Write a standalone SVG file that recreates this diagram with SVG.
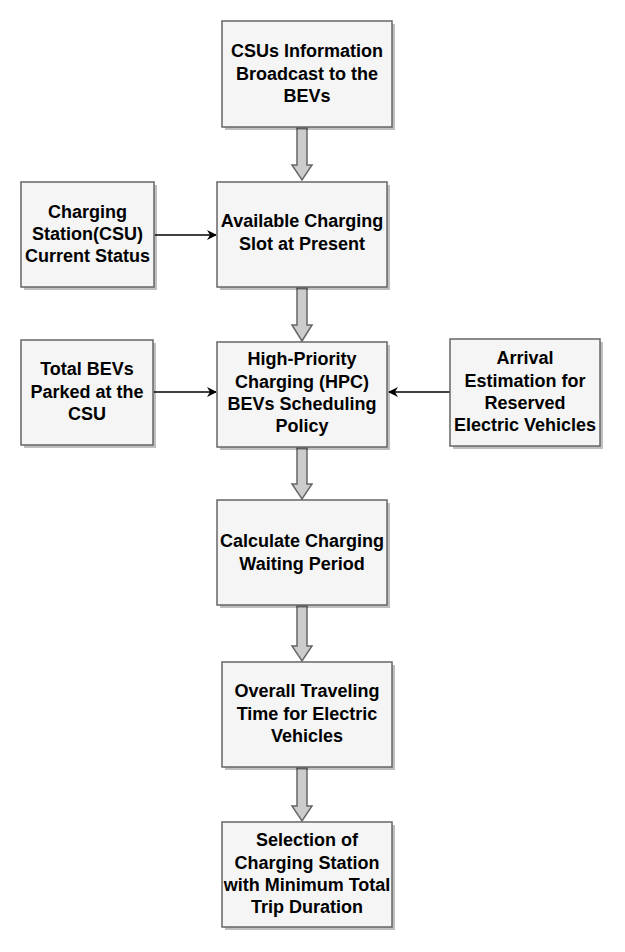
<svg xmlns="http://www.w3.org/2000/svg" width="625" height="952" viewBox="0 0 625 952">
<style>
.box{fill:#f5f5f5;stroke:#666;stroke-width:1.5}
.sh{fill:#000;opacity:0.25}
text{font-family:"Liberation Sans",Arial,sans-serif;font-weight:bold;font-size:18px;fill:#000;text-anchor:middle}
.ln{stroke:#000;stroke-width:1.5;fill:none}
.blk{fill:#ccc;stroke:#666;stroke-width:1.5}
</style>
<defs>
<marker id="ah" markerWidth="10" markerHeight="10" refX="9" refY="5" orient="auto" markerUnits="userSpaceOnUse">
<path d="M0,0 L10,5 L0,10 L3,5 Z" fill="#000"/>
</marker>
</defs>
<g id="connectors">
<path class="blk" d="M297,128 H307 V165 H312 L302,180 L292,165 H297 Z"/>
<path class="blk" d="M297,288 H307 V325 H312 L302,341 L292,325 H297 Z"/>
<path class="blk" d="M297,448 H307 V484 H312 L302,499 L292,484 H297 Z"/>
<path class="blk" d="M297,606 H307 V646 H312 L302,661 L292,646 H297 Z"/>
<path class="blk" d="M297,768 H307 V806 H312 L302,821 L292,806 H297 Z"/>
<line class="ln" x1="155" y1="235" x2="216" y2="235" marker-end="url(#ah)"/>
<line class="ln" x1="154" y1="392" x2="216" y2="392" marker-end="url(#ah)"/>
<line class="ln" x1="450" y1="392" x2="389" y2="392" marker-end="url(#ah)"/>
</g>
<g id="n1">
<rect class="sh" x="225" y="24" width="170" height="106"/>
<rect class="box" x="222" y="21" width="170" height="106"/>
<text x="307" y="57">CSUs Information</text>
<text x="307" y="80">Broadcast to the</text>
<text x="307" y="102">BEVs</text>
</g>
<g id="n2">
<rect class="sh" x="220" y="185" width="170" height="105"/>
<rect class="box" x="217" y="182" width="170" height="105"/>
<text x="302" y="227">Available Charging</text>
<text x="302" y="250">Slot at Present</text>
</g>
<g id="n3">
<rect class="sh" x="24" y="185" width="133" height="105"/>
<rect class="box" x="21" y="182" width="133" height="105"/>
<text x="87.5" y="218">Charging</text>
<text x="87.5" y="240">Station(CSU)</text>
<text x="87.5" y="262">Current Status</text>
</g>
<g id="n4">
<rect class="sh" x="220" y="345" width="170" height="105"/>
<rect class="box" x="217" y="342" width="170" height="105"/>
<text x="302" y="365">High-Priority</text>
<text x="302" y="388">Charging (HPC)</text>
<text x="302" y="410">BEVs Scheduling</text>
<text x="302" y="432">Policy</text>
</g>
<g id="n5">
<rect class="sh" x="24" y="343" width="132" height="105"/>
<rect class="box" x="21" y="340" width="132" height="105"/>
<text x="87" y="375">Total BEVs</text>
<text x="87" y="398">Parked at the</text>
<text x="87" y="420">CSU</text>
</g>
<g id="n6">
<rect class="sh" x="453" y="342" width="150" height="107"/>
<rect class="box" x="450" y="339" width="150" height="107"/>
<text x="525" y="364">Arrival</text>
<text x="525" y="387">Estimation for</text>
<text x="525" y="409">Reserved</text>
<text x="525" y="431">Electric Vehicles</text>
</g>
<g id="n7">
<rect class="sh" x="220" y="503" width="170" height="105"/>
<rect class="box" x="217" y="500" width="170" height="105"/>
<text x="302" y="547">Calculate Charging</text>
<text x="302" y="570">Waiting Period</text>
</g>
<g id="n8">
<rect class="sh" x="225" y="665" width="170" height="105"/>
<rect class="box" x="222" y="662" width="170" height="105"/>
<text x="307" y="697">Overall Traveling</text>
<text x="307" y="720">Time for Electric</text>
<text x="307" y="742">Vehicles</text>
</g>
<g id="n9">
<rect class="sh" x="225" y="825" width="170" height="105"/>
<rect class="box" x="222" y="822" width="170" height="105"/>
<text x="307" y="846">Selection of</text>
<text x="307" y="869">Charging Station</text>
<text x="307" y="891">with Minimum Total</text>
<text x="307" y="913">Trip Duration</text>
</g>
</svg>
